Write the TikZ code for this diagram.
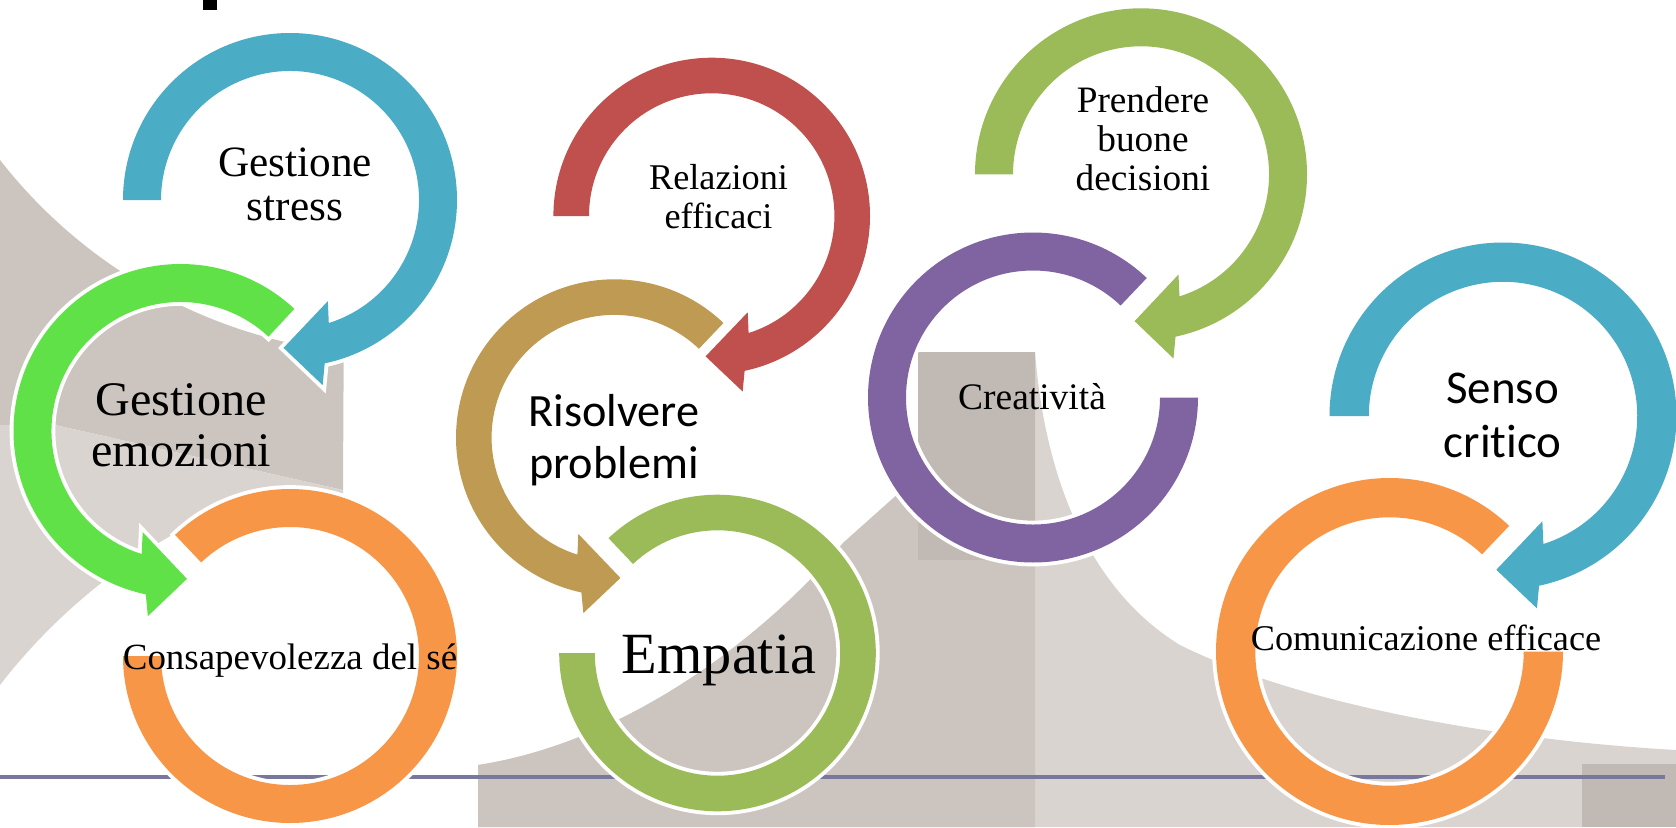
\documentclass[tikz,border=0pt]{standalone}
\usepackage{fontspec}
\setmainfont{Liberation Serif}
\newfontfamily\calibri[Ligatures=NoCommon]{Carlito}
\definecolor{ringblue}{RGB}{75,172,198}
\definecolor{ringlime}{RGB}{97,225,72}
\definecolor{ringorange}{RGB}{247,150,70}
\definecolor{ringred}{RGB}{192,80,77}
\definecolor{ringgold}{RGB}{190,154,82}
\definecolor{ringgreen}{RGB}{155,187,89}
\definecolor{ringpurple}{RGB}{128,100,162}
\definecolor{bglight}{RGB}{218,212,208}
\definecolor{bgmid}{RGB}{204,197,191}
\definecolor{bgdark}{RGB}{193,185,179}
\definecolor{rulecolor}{RGB}{120,120,158}

\begin{document}
\begin{tikzpicture}[x=0.01cm,y=0.01cm,ring/.style={preaction={draw=white,line width=2.2pt}},serif_text/.style={align=center,inner sep=0pt,anchor=base},sans_text/.style={align=center,inner sep=0pt,anchor=base}]

		\useasboundingbox (0,0) rectangle (1676,-827);
		\clip (0,0) rectangle (1676,-827);

		\fill[bgmid] (0,-160) arc[start angle=218,end angle=263.6,radius=508] -- (343,-490) -- (55,-425) -- (0,-425) -- cycle;
		\fill[bglight] (0,-425) -- (55,-425) -- (343,-490) -- (343,-505) -- (200,-520) .. controls (120,-560) and (50,-620) .. (0,-685) -- cycle;
		\fill[bglight] (478,-827) -- (478,-765) .. controls (640,-740) and (780,-620) .. (843,-543) -- (918,-476) -- (918,-352) -- (1035,-352) .. controls (1045,-480) and (1090,-590) .. (1180,-645) .. controls (1300,-705) and (1500,-740) .. (1676,-750) -- (1676,-827) -- cycle;
		\fill[bgmid] (478,-827) -- (478,-765) .. controls (640,-740) and (780,-620) .. (843,-543) -- (918,-476) -- (918,-352) -- (1035,-352) -- (1035,-827) -- cycle;
		\fill[bgdark] (918,-352) rectangle (1035,-560);
		\fill[bgdark] (1582,-764) rectangle (1676,-827);
		\fill[black] (203,0) rectangle (217,-10);

		\draw[rulecolor,line width=1.4pt] (0,-777) -- (1665,-777);

		\fill[ring,ringblue,shift={(290,-200)}] (180:167) arc[start angle=180,end angle=-78,radius=167] -- (-80:188) -- (-92.5:148) -- (-69.5:108) -- (-72.5:129) arc[start angle=-72.5,end angle=180,radius=129] -- cycle;
		\fill[ring,ringlime,shift={(180.5,-431)}] (47:167) arc[start angle=47,end angle=258,radius=167] -- (260:188) -- (272.5:148) -- (249.5:108) -- (252.5:129) arc[start angle=252.5,end angle=47,radius=129] -- cycle;
		\fill[ring,ringorange,shift={(290,-656)}] (133.5:167) arc[start angle=133.5,end angle=-180,radius=167] -- (180:129) arc[start angle=-180,end angle=133.5,radius=129] -- cycle;

		\fill[ring,ringred,shift={(711.7,-216)}] (180:158.3) arc[start angle=180,end angle=-78,radius=158.3] -- (-80:178.2) -- (-92.5:140.5) -- (-69.5:102.8) -- (-72.5:122.7) arc[start angle=-72.5,end angle=180,radius=122.7] -- cycle;
		\fill[ring,ringgold,shift={(614.3,-437.6)}] (46.4:158.3) arc[start angle=46.4,end angle=258,radius=158.3] -- (260:178.2) -- (272.5:140.5) -- (249.5:102.8) -- (252.5:122.7) arc[start angle=252.5,end angle=46.4,radius=122.7] -- cycle;
		\fill[ring,ringgreen,shift={(717.5,-653)}] (133.5:158.3) arc[start angle=133.5,end angle=-180,radius=158.3] -- (180:122.7) arc[start angle=-180,end angle=133.5,radius=122.7] -- cycle;

		\fill[ring,ringgreen,shift={(1141,-174.3)}] (180:166) arc[start angle=180,end angle=-78,radius=166] -- (-80:187) -- (-92.5:147) -- (-69.5:107) -- (-72.5:128) arc[start angle=-72.5,end angle=180,radius=128] -- cycle;
		\fill[ring,ringpurple,shift={(1033,-397.5)}] (46.4:165) arc[start angle=46.4,end angle=360,radius=165] -- (0:127) arc[start angle=360,end angle=46.4,radius=127] -- cycle;

		\fill[ring,ringblue,shift={(1503,-416)}] (180:173.5) arc[start angle=180,end angle=-78,radius=173.5] -- (-80:195.3) -- (-92.5:153.9) -- (-69.5:112.4) -- (-72.5:134.2) arc[start angle=-72.5,end angle=180,radius=134.2] -- cycle;
		\fill[ring,ringorange,shift={(1389.5,-651.5)}] (46.4:173.5) arc[start angle=46.4,end angle=360,radius=173.5] -- (0:134.2) arc[start angle=360,end angle=46.4,radius=134.2] -- cycle;

		\node[serif_text,font=\fontsize{12.3}{12.5}\selectfont] (stress) at (295,-220.7) {Gestione\\stress};
		\node[serif_text,font=\fontsize{13.7}{14.7}\selectfont] (emozioni) at (181,-466.7) {Gestione\\emozioni};
		\node[serif_text,font=\fontsize{10.5}{12}\selectfont] (consapevolezza) at (290,-669) {Consapevolezza del sé};
		\node[serif_text,font=\fontsize{10.3}{11.1}\selectfont] (relazioni) at (718.5,-228.3) {Relazioni\\efficaci};
		\node[sans_text,font=\calibri\fontsize{13.15}{14.7}\selectfont] (problemi) at (614,-478.3) {Risolvere\\problemi};
		\node[serif_text,font=\fontsize{16.6}{18}\selectfont] (empatia) at (719,-673.3) {Empatia};
		\node[serif_text,font=\fontsize{10.6}{11}\selectfont] (decisioni) at (1143,-190) {Prendere\\buone\\decisioni};
		\node[serif_text,font=\fontsize{10.65}{12}\selectfont] (creativita) at (1032,-409.3) {Creatività};
		\node[sans_text,font=\calibri\fontsize{13.36}{15.2}\selectfont] (critico) at (1502.7,-457.3) {Senso\\critico};
		\node[serif_text,font=\fontsize{10.3}{12}\selectfont] (comunicazione) at (1426,-650.7) {Comunicazione efficace};
\end{tikzpicture}
\end{document}
